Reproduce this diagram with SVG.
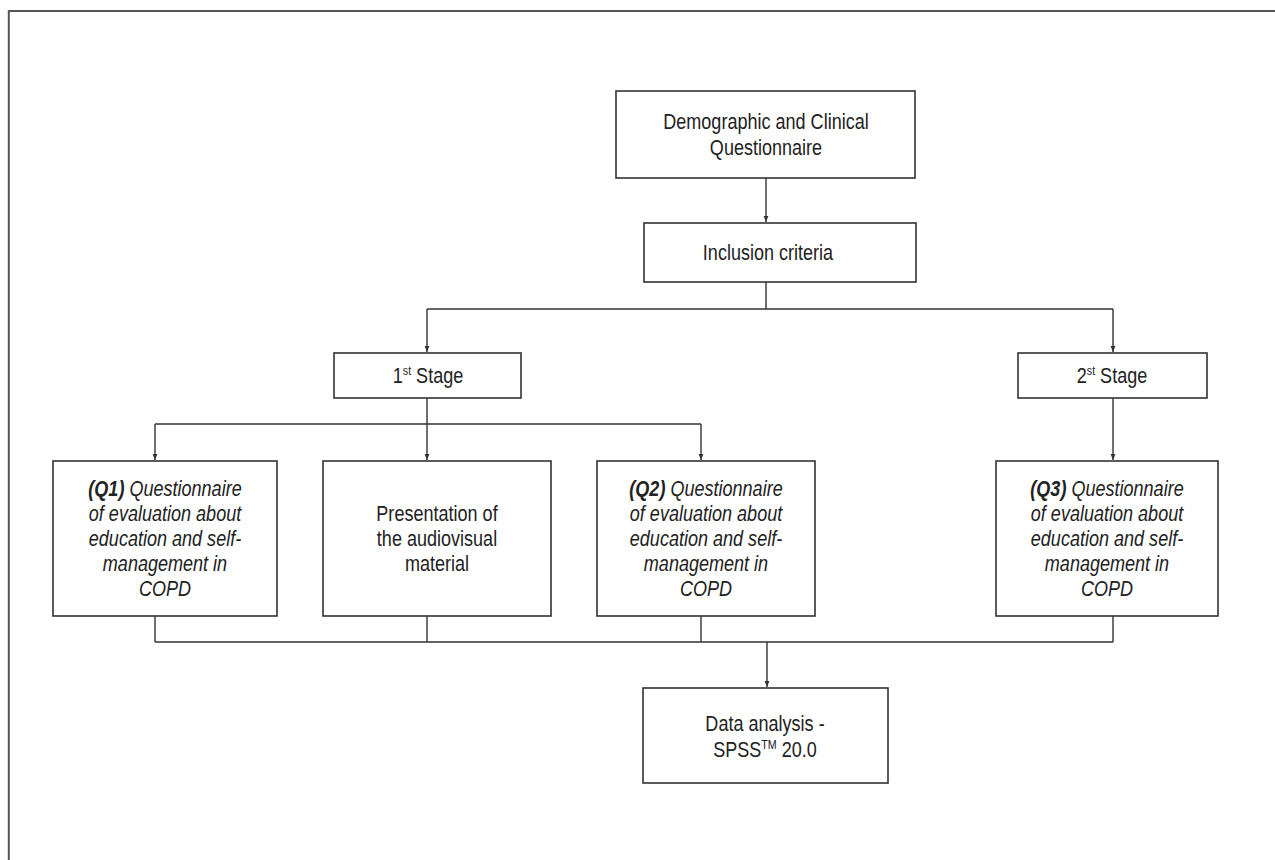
<svg xmlns="http://www.w3.org/2000/svg" width="1275" height="860" viewBox="0 0 1275 860">
<style>
.box{fill:#fff;stroke:#333;stroke-width:1.6}
.ln{fill:none;stroke:#333;stroke-width:1.4}
text{font-family:"Liberation Sans",Arial,sans-serif;font-size:22px;fill:#222;text-anchor:middle}
.it{font-style:italic}
.b{font-weight:bold}
.sup{font-size:13px}
</style>
<defs>
<marker id="ah" viewBox="0 0 10 10" refX="10" refY="5" markerWidth="6" markerHeight="6" markerUnits="userSpaceOnUse" orient="auto">
<path d="M0,1 L10,5 L0,9 z" fill="#333"/>
</marker>
</defs>
<rect width="1275" height="860" fill="#fff"/>
<path d="M8.8,860 V11 H1275" fill="none" stroke="#555" stroke-width="2"/>
<g id="connectors">
<path class="ln" d="M766,178 V222" marker-end="url(#ah)"/>
<path class="ln" d="M766,282 V309 M427,309 H1113"/>
<path class="ln" d="M427,309 V352" marker-end="url(#ah)"/>
<path class="ln" d="M1113,309 V352" marker-end="url(#ah)"/>
<path class="ln" d="M427,398 V424 M155,424 H701"/>
<path class="ln" d="M155,424 V460" marker-end="url(#ah)"/>
<path class="ln" d="M427,424 V460" marker-end="url(#ah)"/>
<path class="ln" d="M701,424 V460" marker-end="url(#ah)"/>
<path class="ln" d="M1113,398 V460" marker-end="url(#ah)"/>
<path class="ln" d="M155,616 V642 M427,616 V642 M701,616 V642 M1113,616 V642 M155,642 H1113"/>
<path class="ln" d="M767,642 V687" marker-end="url(#ah)"/>
</g>
<g id="demographic">
<rect class="box" x="616" y="91" width="299" height="87"/>
<g transform="translate(766,0) scale(0.82,1)">
<text x="0" y="129">Demographic and Clinical</text>
<text x="0" y="155">Questionnaire</text>
</g>
</g>
<g id="inclusion">
<rect class="box" x="644" y="223" width="272" height="59"/>
<g transform="translate(768,0) scale(0.82,1)">
<text x="0" y="260">Inclusion criteria</text>
</g>
</g>
<g id="stage1">
<rect class="box" x="334" y="353" width="187" height="45"/>
<g transform="translate(428,0) scale(0.82,1)">
<text x="0" y="383">1<tspan class="sup" dy="-8">st</tspan><tspan dy="8"> Stage</tspan></text>
</g>
</g>
<g id="stage2">
<rect class="box" x="1018" y="353" width="189" height="45"/>
<g transform="translate(1112,0) scale(0.82,1)">
<text x="0" y="383">2<tspan class="sup" dy="-8">st</tspan><tspan dy="8"> Stage</tspan></text>
</g>
</g>
<g id="q1">
<rect class="box" x="53" y="461" width="224" height="155"/>
<g transform="translate(165,0) scale(0.82,1)">
<text class="it" x="0" y="496"><tspan class="b">(Q1)</tspan> Questionnaire</text>
<text class="it" x="0" y="521">of evaluation about</text>
<text class="it" x="0" y="546">education and self-</text>
<text class="it" x="0" y="571">management in</text>
<text class="it" x="0" y="596">COPD</text>
</g>
</g>
<g id="presentation">
<rect class="box" x="323" y="461" width="228" height="155"/>
<g transform="translate(437,0) scale(0.82,1)">
<text x="0" y="521">Presentation of</text>
<text x="0" y="546">the audiovisual</text>
<text x="0" y="571">material</text>
</g>
</g>
<g id="q2">
<rect class="box" x="597" y="461" width="218" height="155"/>
<g transform="translate(706,0) scale(0.82,1)">
<text class="it" x="0" y="496"><tspan class="b">(Q2)</tspan> Questionnaire</text>
<text class="it" x="0" y="521">of evaluation about</text>
<text class="it" x="0" y="546">education and self-</text>
<text class="it" x="0" y="571">management in</text>
<text class="it" x="0" y="596">COPD</text>
</g>
</g>
<g id="q3">
<rect class="box" x="996" y="461" width="222" height="155"/>
<g transform="translate(1107,0) scale(0.82,1)">
<text class="it" x="0" y="496"><tspan class="b">(Q3)</tspan> Questionnaire</text>
<text class="it" x="0" y="521">of evaluation about</text>
<text class="it" x="0" y="546">education and self-</text>
<text class="it" x="0" y="571">management in</text>
<text class="it" x="0" y="596">COPD</text>
</g>
</g>
<g id="data">
<rect class="box" x="643" y="688" width="245" height="95"/>
<g transform="translate(765,0) scale(0.82,1)">
<text x="0" y="731">Data analysis -</text>
<text x="0" y="757">SPSS<tspan class="sup" dy="-8">TM</tspan><tspan dy="8"> 20.0</tspan></text>
</g>
</g>
</svg>
